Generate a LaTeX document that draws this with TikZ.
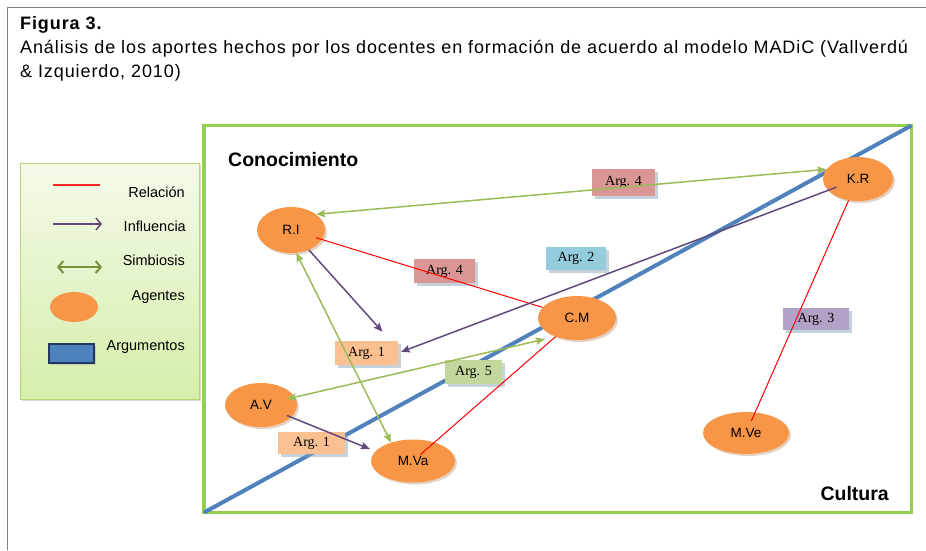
\documentclass[tikz,border=0pt]{standalone}
\usepackage{fontspec}
\setmainfont{Liberation Sans}
\newfontfamily\argfont{Liberation Serif}
\newfontfamily\titlefont[LetterSpace=5]{Liberation Sans}
\usetikzlibrary{shapes.geometric,arrows.meta,shadows,calc}
\definecolor{agentecolor}{RGB}{247,150,70}
\definecolor{agentesombra}{RGB}{200,165,135}
\definecolor{argsombra}{RGB}{140,165,185}
\definecolor{argrojo}{RGB}{217,150,148}
\definecolor{argazul}{RGB}{147,205,221}
\definecolor{argnaranja}{RGB}{250,192,144}
\definecolor{argverde}{RGB}{195,214,155}
\definecolor{argmorado}{RGB}{179,162,199}
\definecolor{influcolor}{RGB}{96,74,123}
\definecolor{simbcolor}{RGB}{155,187,89}
\definecolor{simbley}{RGB}{119,147,60}
\definecolor{marco}{RGB}{146,208,80}
\definecolor{diagonal}{RGB}{79,129,189}
\definecolor{azuloscuro}{RGB}{31,56,100}
\definecolor{leyarriba}{RGB}{243,250,234}
\definecolor{leyabajo}{RGB}{214,238,170}
\definecolor{leyborde}{RGB}{178,214,120}
\begin{document}
\begin{tikzpicture}[x=1pt,y=-1pt,
  agente/.style={ellipse,fill=agentecolor,inner sep=0pt,font=\fontsize{13.5}{16}\selectfont,
    drop shadow={shadow xshift=2pt,shadow yshift=-2pt,fill=agentesombra}},
  arg/.style={rectangle,inner sep=0pt,font=\argfont\fontsize{14}{16}\selectfont,
    drop shadow={shadow xshift=3pt,shadow yshift=-3pt,fill=argsombra}},
  relacion/.style={red,line width=1pt},
  influencia/.style={influcolor,line width=1.5pt,-{Stealth[length=9pt,width=7.5pt,inset=1.5pt]}},
  simbiosis/.style={simbcolor,line width=1.5pt,
    {Stealth[length=9pt,width=7.5pt,inset=1.5pt]}-{Stealth[length=9pt,width=7.5pt,inset=1.5pt]}},
  etiqueta/.style={anchor=east,inner sep=0pt,font=\fontsize{14.5}{17}\selectfont}]
\useasboundingbox (0,0) rectangle (926,550);
\path[draw,gray,line width=1.5pt] (7.5,550) -- (7.5,7.5) -- (926,7.5);
\node[anchor=base west,inner sep=0pt,font=\titlefont\bfseries\fontsize{18}{21}\selectfont] (figura) at (20,29) {Figura 3.};
\node[anchor=base west,inner sep=0pt,font=\titlefont\fontsize{18}{21}\selectfont] (sub1) at (20,53) {Análisis de los aportes hechos por los docentes en formación de acuerdo al modelo MADiC (Vallverdú};
\node[anchor=base west,inner sep=0pt,font=\titlefont\fontsize{18}{21}\selectfont] (sub2) at (20,77) {\& Izquierdo, 2010)};

\node[draw=leyborde,top color=leyarriba,bottom color=leyabajo,minimum width=179pt,minimum height=236pt,
  drop shadow={shadow xshift=2pt,shadow yshift=-2pt,fill=gray!60}] (leyenda) at (109.5,281) {};
\path[draw,red!85,line width=1.5pt] (53,185) -- (100,185);
\path[draw,influcolor,line width=1.5pt,-{Straight Barb[length=5pt,width=12pt]}] (53,224) -- (102,224);
\path[draw,simbley,line width=2pt,{Straight Barb[length=5pt,width=12pt]}-{Straight Barb[length=5pt,width=12pt]}] (57,267) -- (102,267);
\node[ellipse,fill=agentecolor,minimum width=48pt,minimum height=30pt,inner sep=0pt] (leyagente) at (74,307) {};
\node[rectangle,fill=diagonal,draw=azuloscuro,line width=2.5pt,minimum width=45pt,minimum height=19pt,inner sep=0pt,
  drop shadow={shadow xshift=2pt,shadow yshift=-2pt,fill=gray!60}] (leyarg) at (71.5,353.5) {};
\node[etiqueta] (lrel) at (185,192) {Relación};
\node[etiqueta] (linf) at (186,226) {Influencia};
\node[etiqueta] (lsim) at (185,260) {Simbiosis};
\node[etiqueta] (lage) at (185,297) {Agentes};
\node[etiqueta] (larg) at (185,347) {Argumentos};

\path[draw,marco,line width=3.5pt] (204,125.5) rectangle (911.5,512.5);
\path[draw,diagonal,line width=4pt] (204,512.5) -- (911.5,125.5);
\node[anchor=west,inner sep=0pt,font=\bfseries\fontsize{19.5}{23}\selectfont] (conoc) at (228,160) {Conocimiento};
\node[anchor=east,inner sep=0pt,font=\bfseries\fontsize{19.5}{23}\selectfont] (cultura) at (889,494) {Cultura};

\node[agente,minimum width=68pt,minimum height=46pt] (RI) at (291,230) {R.I};
\node[agente,minimum width=78pt,minimum height=44pt] (CM) at (577,318) {C.M};
\node[agente,minimum width=70pt,minimum height=44pt] (KR) at (858,179) {K.R};
\node[agente,minimum width=72pt,minimum height=44pt] (AV) at (261,405) {A.V};
\node[agente,minimum width=84pt,minimum height=43pt] (MVa) at (413,461) {M.Va};
\node[agente,minimum width=86pt,minimum height=42pt] (MVe) at (746,433) {M.Ve};

\node[arg,fill=argrojo,minimum width=63pt,minimum height=27pt] (Arg4a) at (623.5,182.5) {Arg. 4};
\node[arg,fill=argrojo,minimum width=61pt,minimum height=24pt] (Arg4b) at (444.5,271) {Arg. 4};
\node[arg,fill=argazul,minimum width=60pt,minimum height=23pt] (Arg2) at (576,258.5) {Arg. 2};
\node[arg,fill=argnaranja,minimum width=63pt,minimum height=24pt] (Arg1a) at (366.5,353) {Arg. 1};
\node[arg,fill=argverde,minimum width=57pt,minimum height=24pt] (Arg5) at (473.5,372) {Arg. 5};
\node[arg,fill=argmorado,minimum width=66pt,minimum height=22pt] (Arg3) at (816,319) {Arg. 3};
\node[arg,fill=argnaranja,minimum width=67pt,minimum height=22pt] (Arg1b) at (311.5,443) {Arg. 1};

\path[draw,relacion,shorten <=26pt] (RI.center) -- (CM);
\path[draw,relacion,shorten >=10pt] (CM) -- (MVa.center);
\path[draw,relacion,shorten >=13pt] (KR) -- (MVe.center);
\path[draw,influencia] (RI) -- ($(Arg1a.north)+(16,-9)$);
\path[draw,influencia,shorten <=23pt,shorten >=3pt] (KR.center) -- (Arg1a.east);
\path[draw,influencia,shorten <=28pt] (AV.center) -- ($(MVa.west)+(-1,-12)$);
\path[draw,simbiosis] (RI.32) -- (KR.163);
\path[draw,simbiosis] (RI.-77) -- (MVa.140);
\path[draw,simbiosis,shorten <=27pt,shorten >=11pt] (AV.center) -- (CM.221);
\end{tikzpicture}
\end{document}
